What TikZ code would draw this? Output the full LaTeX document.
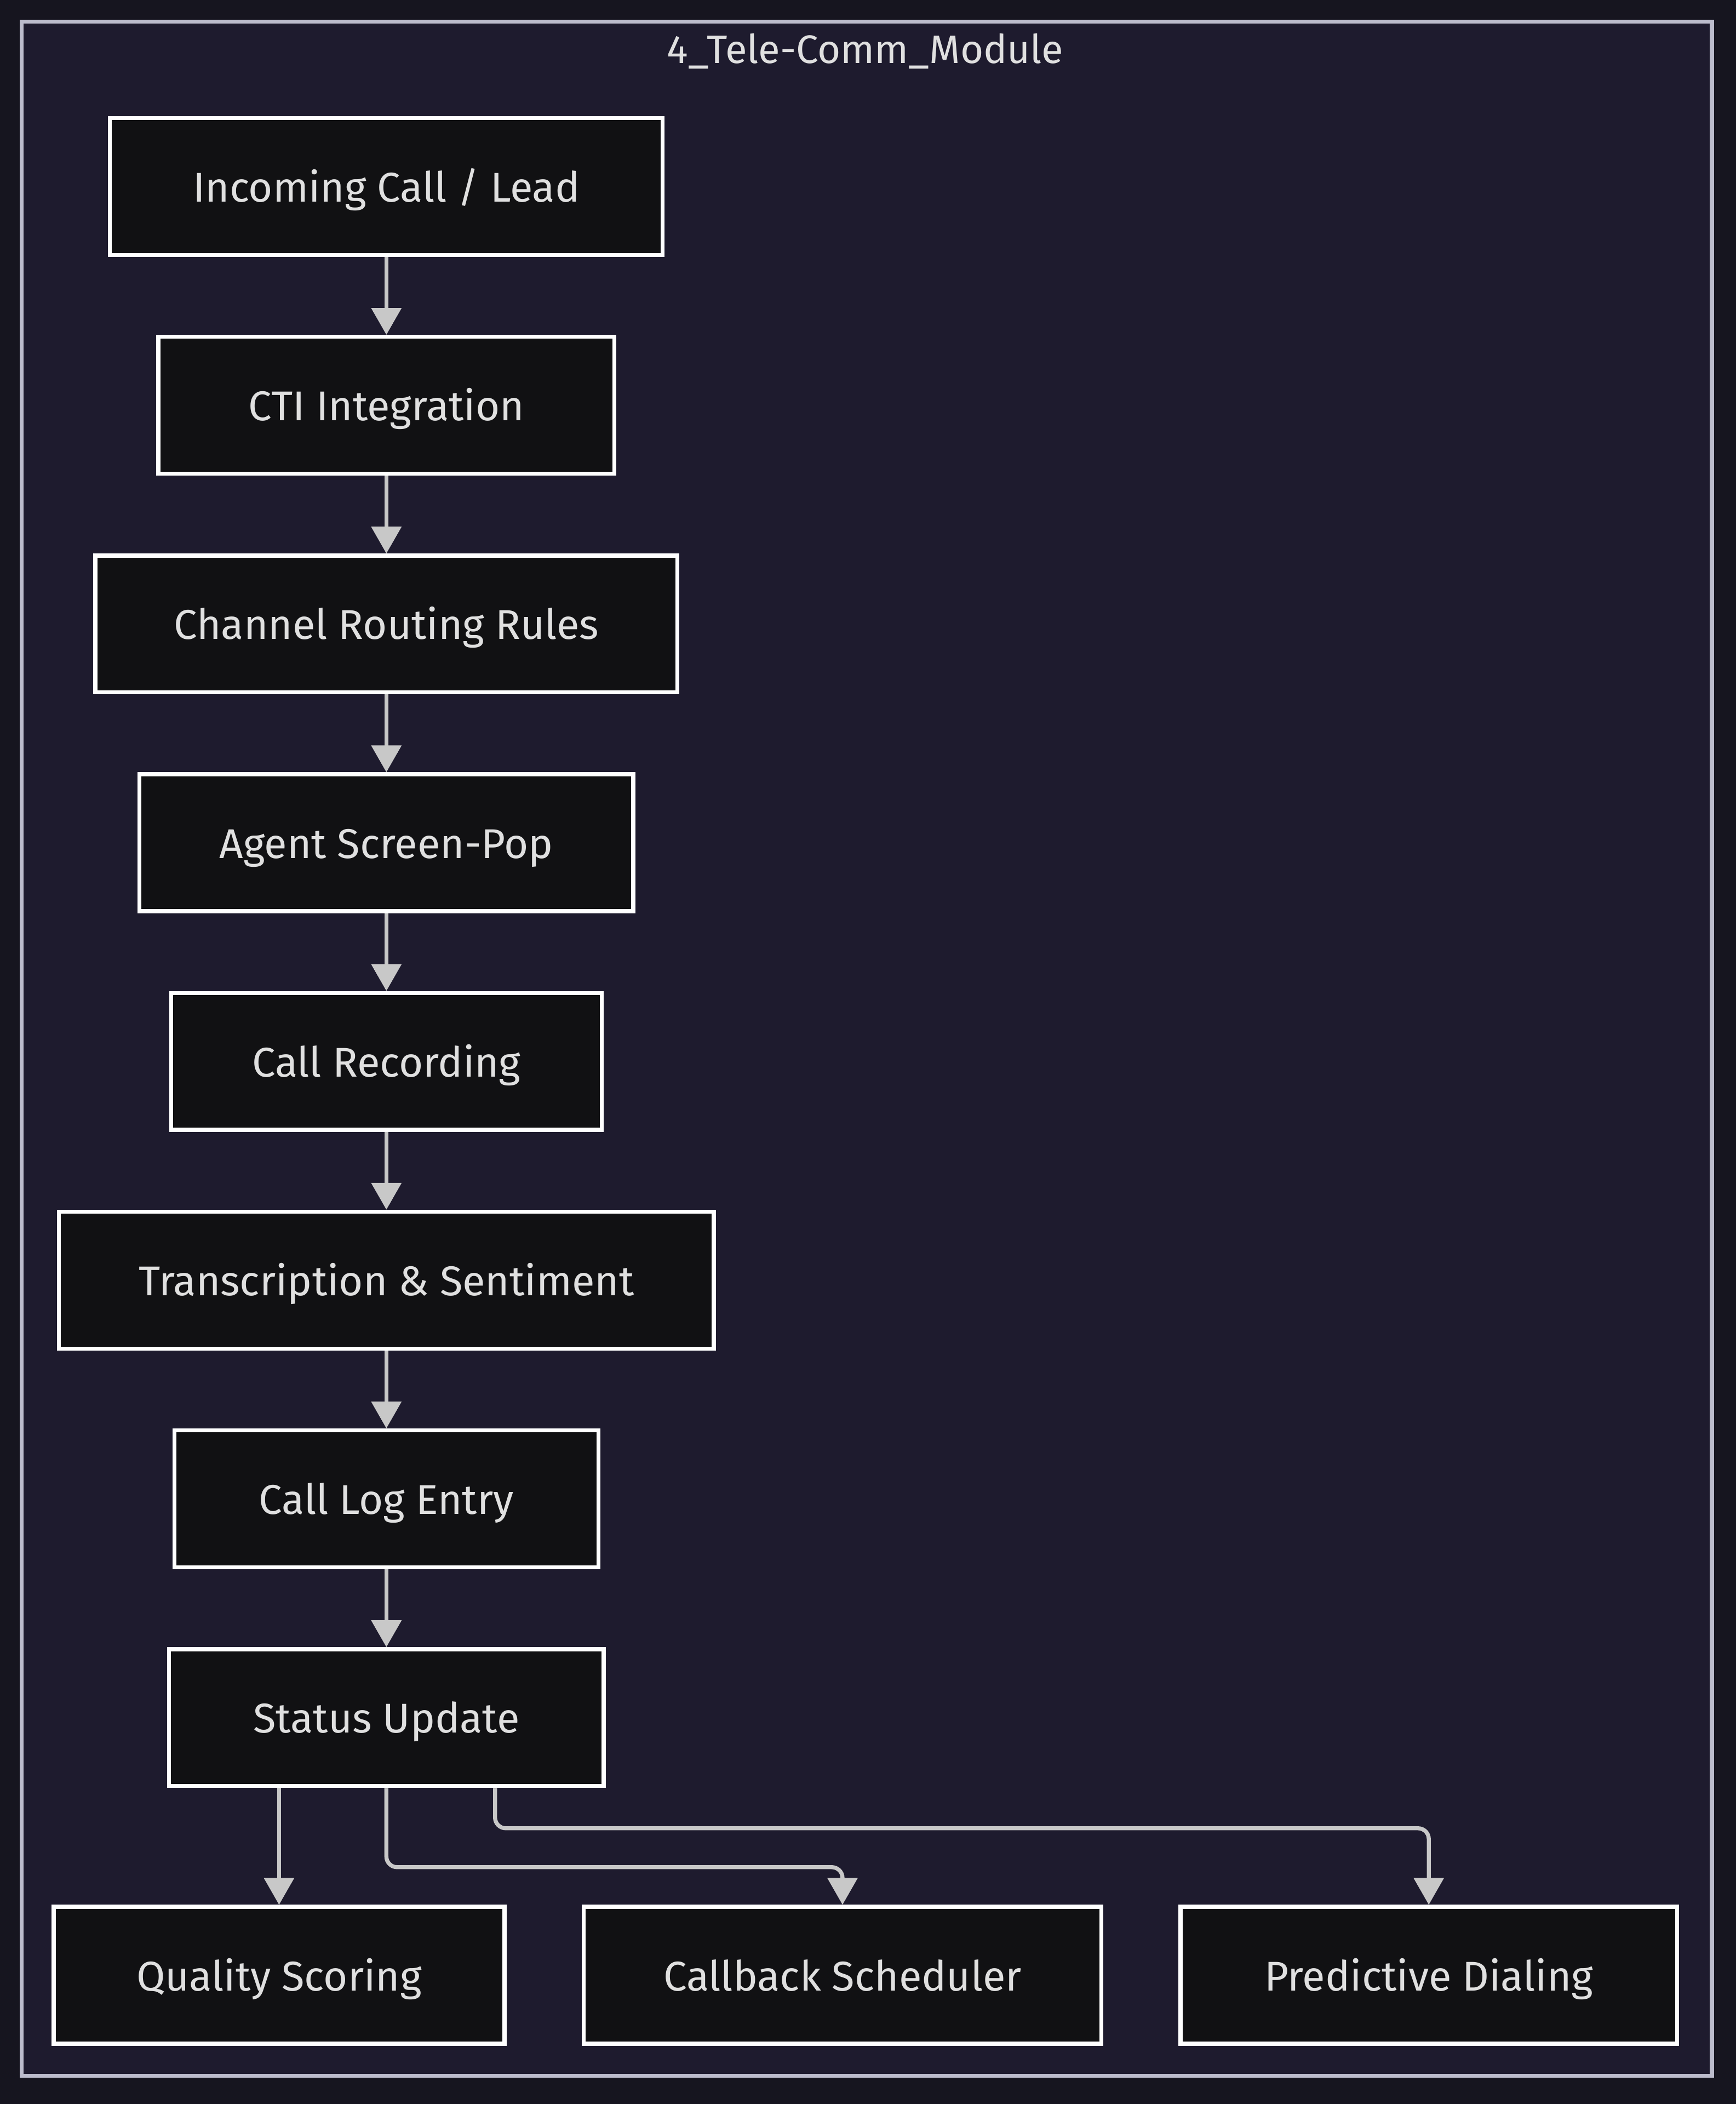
\documentclass[tikz,border=0pt]{standalone}
\usepackage{fontspec}
\setmainfont{Fira Sans}
\usetikzlibrary{arrows.meta}

\definecolor{pagebg}{HTML}{16151F}
\definecolor{clusterbg}{HTML}{1E1B2E}
\definecolor{clusterline}{HTML}{BCBCCC}
\definecolor{boxbg}{HTML}{111113}
\definecolor{boxtext}{HTML}{E0E0E0}
\definecolor{linkgray}{HTML}{C8C8C8}

\tikzset{
  stepbox/.style={draw=white, fill=boxbg, text=boxtext, line width=1.5pt,
    minimum height=51pt, inner sep=0pt, text height=13pt, text depth=1.5pt,
    font=\fontsize{15.5}{18}\selectfont},
  link/.style={draw=linkgray, line width=1.5pt, -{Triangle[width=11pt,length=10pt]}},
}

\begin{document}
\begin{tikzpicture}[x=0.5pt,y=-0.5pt]
		\useasboundingbox[fill=pagebg] (0,0) rectangle (1294,1568);
		
		% Module frame
		\draw[fill=clusterbg, draw=clusterline, line width=1.5pt] (16,16) rectangle (1276,1547);
		\node[text=boxtext, font=\fontsize{14.8}{17}\selectfont] (title) at (645,38) {4\_Tele-Comm\_Module};
		
		% Call flow
		\node[stepbox, minimum width=206pt] (inc) at (288,139) {Incoming Call / Lead};
		\node[stepbox, minimum width=170pt] (cti) at (288,302) {CTI Integration};
		\node[stepbox, minimum width=217pt] (route) at (288,465) {Channel Routing Rules};
		\node[stepbox, minimum width=184pt] (pop) at (288,628) {Agent Screen-Pop};
		\node[stepbox, minimum width=160.5pt] (rec) at (288,791) {Call Recording};
		\node[stepbox, minimum width=244pt] (trans) at (288,954) {Transcription \& Sentiment};
		\node[stepbox, minimum width=158pt] (log) at (288,1117) {Call Log Entry};
		\node[stepbox, minimum width=162pt] (stat) at (288,1280) {Status Update};
		
		% Follow-up
		\node[stepbox, minimum width=168pt] (qs) at (208,1472) {Quality Scoring};
		\node[stepbox, minimum width=193pt] (cb) at (628,1472) {Callback Scheduler};
		\node[stepbox, minimum width=185pt] (pd) at (1065,1472) {Predictive Dialing};
		
		% Arrows
		\draw[link] (inc) -- (cti);
		\draw[link] (cti) -- (route);
		\draw[link] (route) -- (pop);
		\draw[link] (pop) -- (rec);
		\draw[link] (rec) -- (trans);
		\draw[link] (trans) -- (log);
		\draw[link] (log) -- (stat);
		
		\draw[link] (stat.south -| qs.north) -- (qs.north);
		\draw[link, rounded corners=4pt] (stat.south) -- ++(0,59) -| (cb.north);
		\draw[link, rounded corners=4pt] ([xshift=40.5pt]stat.south) -- ++(0,30) -| (pd.north);
		
	\end{tikzpicture}
\end{document}
